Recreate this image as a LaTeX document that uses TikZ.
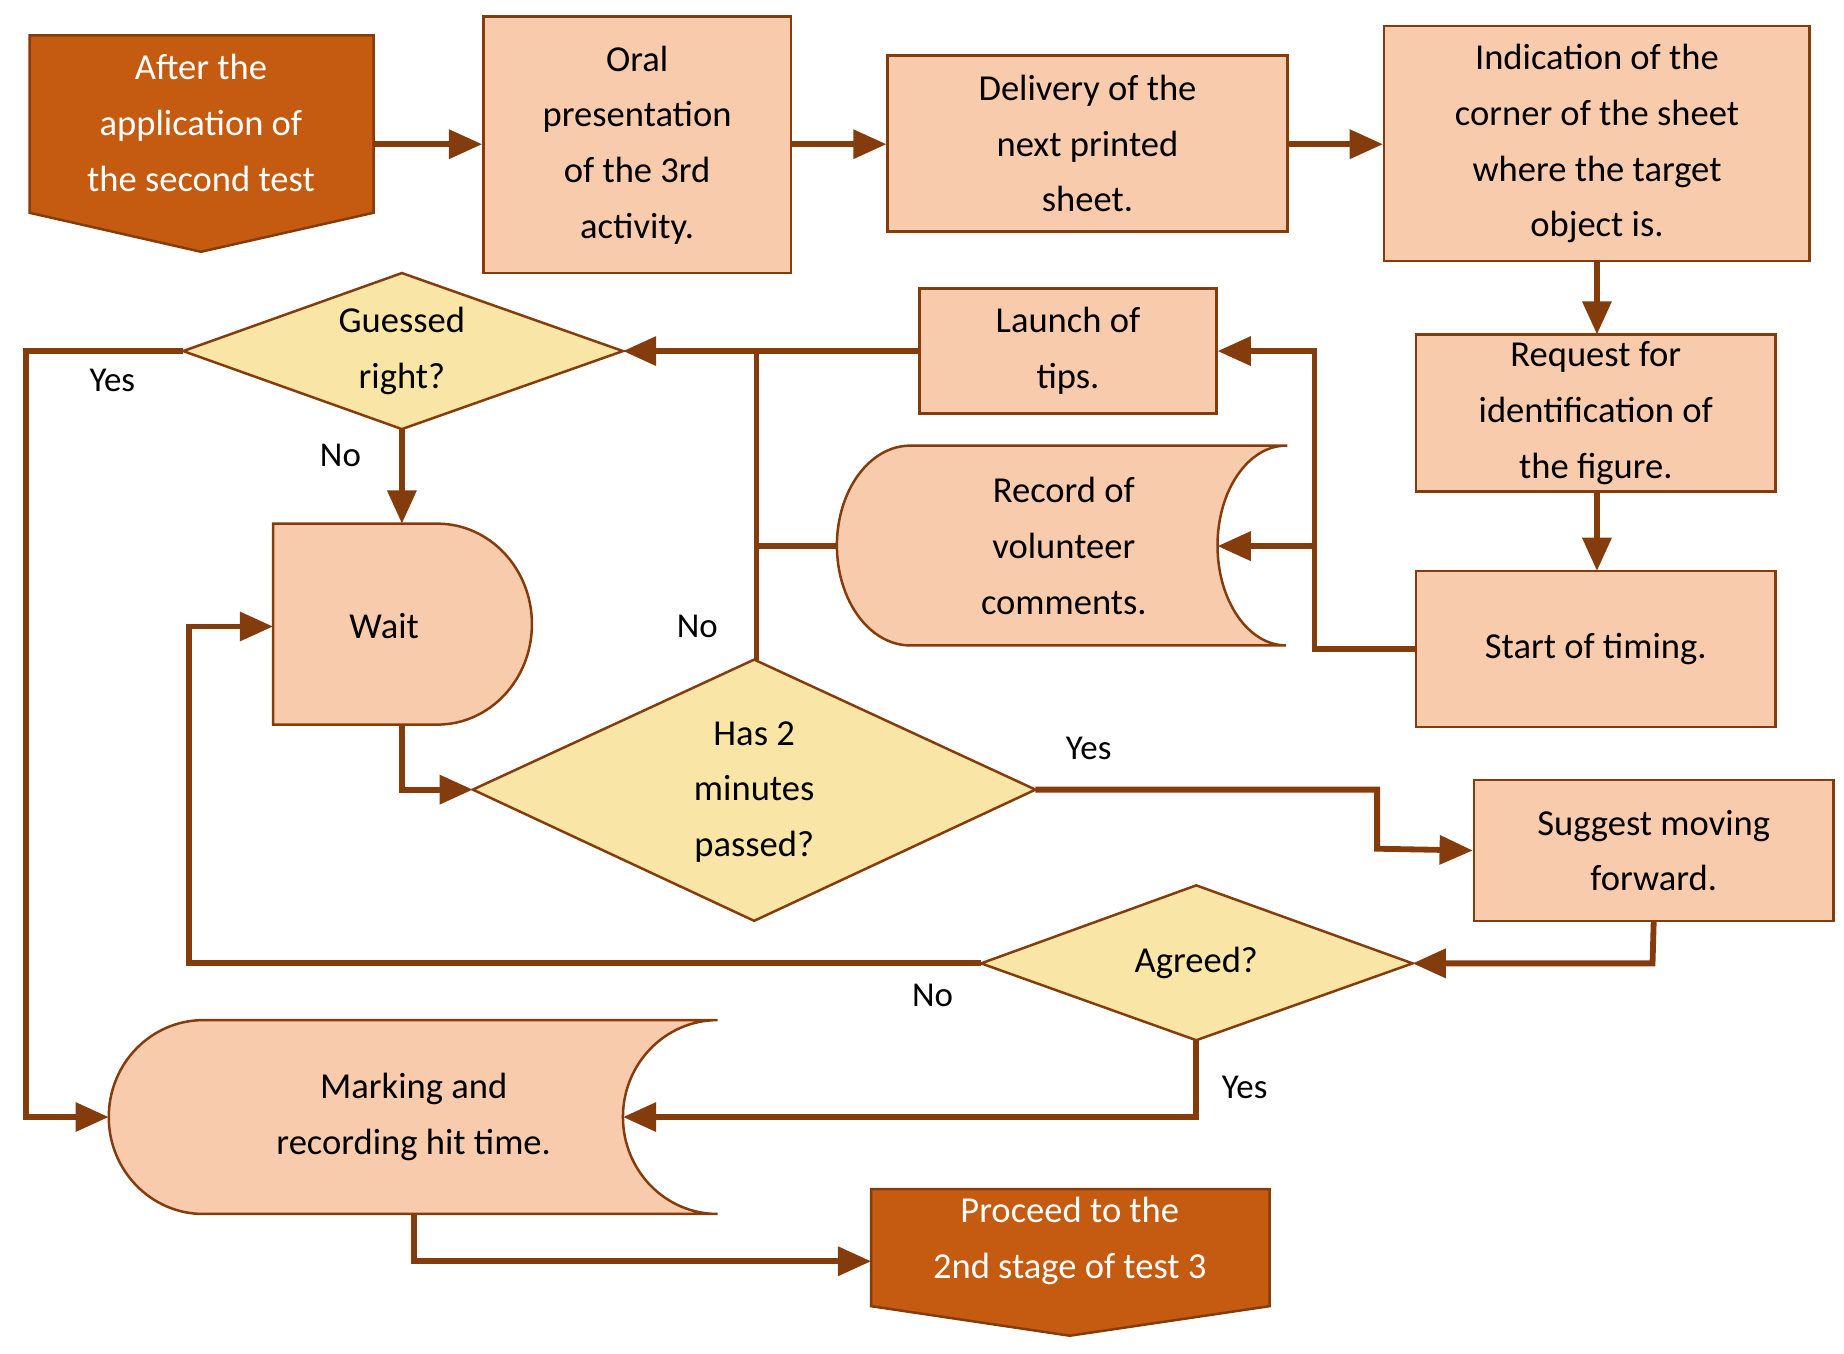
\documentclass[tikz,border=0pt]{standalone}
\usepackage{fontspec}
\setmainfont{Carlito}
\usetikzlibrary{arrows.meta}
\definecolor{fillo}{HTML}{F8CBAD}
\definecolor{dark}{HTML}{C55A11}
\definecolor{edge}{HTML}{843C0C}
\definecolor{dia}{HTML}{F9E5A5}
\begin{document}
\begin{tikzpicture}[x=0.05cm,y=0.05cm,
  shp/.style={draw=edge,line width=3pt,fill=fillo},
  box/.style={shp,rectangle,inner sep=0pt,align=center,font=\fontsize{44}{67}\selectfont},
  txt/.style={align=center,inner sep=0pt,font=\fontsize{44}{67}\selectfont},
  lbl/.style={inner sep=0pt,font=\fontsize{42}{50}\selectfont},
  con/.style={draw=edge,line width=7pt,-{Stealth[length=40pt,width=34pt,inset=0pt]}},
  ln/.style={draw=edge,line width=7pt}]
\useasboundingbox (0,0) rectangle (1560,-1145);
% start
\draw[draw=edge,line width=3pt,fill=dark] (25,-30) -- (316,-30) -- (316,-180) -- (170,-213) -- (25,-180) -- cycle;
\node[txt,text=white] (start) at (170,-104) {After the\\application of\\the second test};
\node[box,minimum width=13cm,minimum height=10.85cm] (oral) at (539,-122.5) {Oral\\presentation\\of the 3rd\\activity.};
\node[box,minimum width=16.9cm,minimum height=7.45cm] (deliv) at (920,-121.5) {Delivery of the\\next printed\\sheet.};
\node[box,minimum width=18cm,minimum height=9.95cm] (ind) at (1351,-121.5) {Indication of the\\corner of the sheet\\where the target\\object is.};
\node[box,minimum width=15.2cm,minimum height=6.65cm] (req) at (1350,-349.5) {Request for\\identification of\\the figure.};
\node[box,minimum width=15.2cm,minimum height=6.6cm] (timing) at (1350,-549) {Start of timing.};
\node[box,minimum width=12.55cm,minimum height=5.3cm] (tips) at (903.5,-297) {Launch of\\tips.};
\node[box,minimum width=15.2cm,minimum height=5.95cm] (sugg) at (1399,-719.5) {Suggest moving\\forward.};
% record
\draw[shp] (1088,-377) -- (770,-377) arc[start angle=90,end angle=270,x radius=62,y radius=84.5] -- (1088,-546) arc[start angle=270,end angle=90,x radius=58,y radius=84.5] -- cycle;
\node[txt] (record) at (900,-462) {Record of\\volunteer\\comments.};
\coordinate (recR) at (1030,-462);
% wait
\draw[shp] (231,-443) -- (370,-443) arc[start angle=90,end angle=-90,x radius=80,y radius=85] -- (231,-613) -- cycle;
\node[txt] (wait) at (325,-530) {Wait};
% marking
\draw[shp] (607,-863) -- (172,-863) arc[start angle=90,end angle=270,x radius=80,y radius=82] -- (607,-1027) arc[start angle=270,end angle=90,x radius=80,y radius=82] -- cycle;
\node[txt] (mark) at (350,-945) {Marking and\\recording hit time.};
\coordinate (markR) at (527,-945);
% diamonds
\draw[shp,fill=dia] (155,-297) -- (340,-231) -- (527,-297) -- (340,-363) -- cycle;
\node[txt] (guess) at (340,-297) {Guessed\\right?};
\draw[shp,fill=dia] (400,-668) -- (638,-558) -- (876,-668) -- (638,-779) -- cycle;
\node[txt] (has) at (638,-670) {Has 2\\minutes\\passed?};
\draw[shp,fill=dia] (830,-815) -- (1012,-749) -- (1195,-815) -- (1012,-880) -- cycle;
\node[txt] (agree) at (1012,-815) {Agreed?};
% proceed
\draw[draw=edge,line width=3pt,fill=dark] (737,-1006) -- (1074,-1006) -- (1074,-1105) -- (905,-1130) -- (737,-1105) -- cycle;
\node[txt,text=white] (proc) at (905,-1050) {Proceed to the\\2nd stage of test 3};
% connectors
\draw[con] (316,-122) -- (oral.west |- 0,-122);
\draw[con] (oral.east |- 0,-122) -- (deliv.west |- 0,-122);
\draw[con] (deliv.east |- 0,-122) -- (ind.west |- 0,-122);
\draw[con] (ind.south -| 1351,0) -- (1351,-283);
\draw[con] (1351,-416) -- (1351,-483);
\draw[con] (timing.west) -- (1112,-549) -- (1112,-297) -- (tips.east);
\draw[con] (1112,-462) -- (recR);
\draw[con] (tips.west) -- (527,-297);
\draw[ln] (708,-462) -- (640,-462);
\draw[ln] (640,-558) -- (640,-297);
\draw[con] (340,-363) -- (340,-443);
\draw[con] (155,-297) -- (22,-297) -- (22,-945) -- (92,-945);
\draw[con] (340,-613) -- (340,-668) -- (400,-668);
\draw[con] (876,-668) -- (1165,-668) -- (1165,-718) -- (sugg.west);
\draw[con] (sugg.south) -- (1398,-815) -- (1195,-815);
\draw[con] (830,-815) -- (160,-815) -- (160,-530) -- (231,-530);
\draw[con] (1012,-880) -- (1012,-945) -- (markR);
\draw[con] (350,-1027) -- (350,-1067) -- (737,-1067);
% labels
\node[lbl] (l1) at (95,-322) {Yes};
\node[lbl] (l2) at (288,-385) {No};
\node[lbl] (l3) at (590,-530) {No};
\node[lbl] (l4) at (921,-633) {Yes};
\node[lbl] (l5) at (789,-842) {No};
\node[lbl] (l6) at (1053,-920) {Yes};
\end{tikzpicture}
\end{document}
